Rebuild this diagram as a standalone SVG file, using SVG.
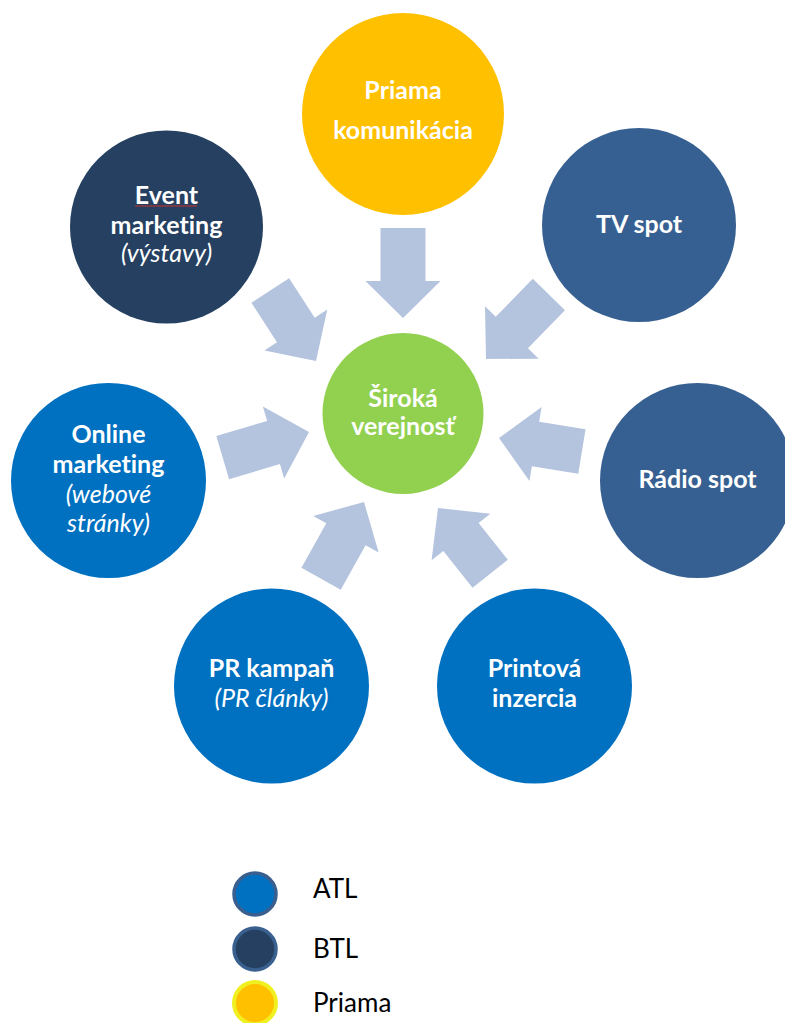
<svg xmlns="http://www.w3.org/2000/svg" width="785" height="1023" viewBox="0 0 785 1023">
<style>
.lbl{font-family:Lato,"Liberation Sans",sans-serif;font-size:25px;font-weight:bold;fill:#FFFFFF;text-anchor:middle;font-variant-ligatures:none}
.it{font-family:Lato,"Liberation Sans",sans-serif;font-size:25px;font-style:italic;fill:#FFFFFF;text-anchor:middle;font-variant-ligatures:none}
.leg{font-family:Lato,"Liberation Sans",sans-serif;font-size:26px;fill:#000000}
.arr{fill:#B4C3DE}
.atl{fill:#0070C0}
.btl{fill:#254061}
.tv{fill:#376092}
</style>
<rect width="785" height="1023" fill="#FFFFFF"/>
<g id="connectors">
<polygon class="arr" transform="translate(403,318) rotate(90)" points="-90,-22.5 -37,-22.5 -37,-37.5 0,0 -37,37.5 -37,22.5 -90,22.5"/>
<polygon class="arr" transform="translate(486,359) rotate(134.3)" points="-90,-22.5 -37,-22.5 -37,-37.5 0,0 -37,37.5 -37,22.5 -90,22.5"/>
<polygon class="arr" transform="translate(499,438) rotate(189.3)" points="-84,-22.5 -37,-22.5 -37,-37.5 0,0 -37,37.5 -37,22.5 -84,22.5"/>
<polygon class="arr" transform="translate(438,508) rotate(231.6)" points="-84,-22.5 -37,-22.5 -37,-37.5 0,0 -37,37.5 -37,22.5 -84,22.5"/>
<polygon class="arr" transform="translate(364,502) rotate(-60.8)" points="-88,-22.5 -37,-22.5 -37,-37.5 0,0 -37,37.5 -37,22.5 -88,22.5"/>
<polygon class="arr" transform="translate(309,432) rotate(-16.5)" points="-90,-22.5 -37,-22.5 -37,-37.5 0,0 -37,37.5 -37,22.5 -90,22.5"/>
<polygon class="arr" transform="translate(316,361) rotate(57)" points="-84,-22.5 -37,-22.5 -37,-37.5 0,0 -37,37.5 -37,22.5 -84,22.5"/>
</g>
<g id="priama">
<circle cx="403" cy="114" r="101" fill="#FFC000"/>
<text class="lbl" x="403" y="99">Priama</text>
<text class="lbl" x="403" y="139">komunikácia</text>
</g>
<g id="event">
<circle cx="166.5" cy="227" r="96.5" class="btl"/>
<text class="lbl" x="166.5" y="204">Event</text>
<line x1="135" y1="206" x2="197" y2="206" stroke="#D0312D" stroke-width="1.2"/>
<text class="lbl" x="166.5" y="234">marketing</text>
<text class="it" x="166.5" y="262">(výstavy)</text>
</g>
<g id="tv">
<circle cx="639" cy="225" r="97" class="tv"/>
<text class="lbl" x="639" y="233">TV spot</text>
</g>
<g id="radio">
<circle cx="697.5" cy="480.5" r="97.5" class="tv"/>
<text class="lbl" x="697.5" y="488">Rádio spot</text>
</g>
<g id="online">
<circle cx="108.5" cy="480.5" r="97.5" class="atl"/>
<text class="lbl" x="108.5" y="443">Online</text>
<text class="lbl" x="108.5" y="473">marketing</text>
<text class="it" x="108.5" y="503">(webové</text>
<text class="it" x="108.5" y="532">stránky)</text>
</g>
<g id="pr">
<circle cx="271.5" cy="686" r="97.5" class="atl"/>
<text class="lbl" x="271.5" y="677">PR kampaň</text>
<text class="it" x="271.5" y="707">(PR články)</text>
</g>
<g id="print">
<circle cx="534.5" cy="686" r="97.5" class="atl"/>
<text class="lbl" x="534.5" y="677">Printová</text>
<text class="lbl" x="534.5" y="707">inzercia</text>
</g>
<g id="center">
<circle cx="403" cy="413.5" r="80.5" fill="#92D050"/>
<text class="lbl" x="403" y="407">Široká</text>
<text class="lbl" x="403" y="435">verejnosť</text>
</g>
<g id="legend">
<circle cx="255" cy="894" r="21" fill="#0070C0" stroke="#3A5F8F" stroke-width="3.5"/>
<text class="leg" x="313" y="898">ATL</text>
<circle cx="255" cy="949" r="21" fill="#254061" stroke="#3A6090" stroke-width="3.5"/>
<text class="leg" x="313" y="958">BTL</text>
<circle cx="255" cy="1003" r="21" fill="#FFC000" stroke="#F0F020" stroke-width="4"/>
<text class="leg" x="313" y="1012">Priama</text>
</g>
</svg>
